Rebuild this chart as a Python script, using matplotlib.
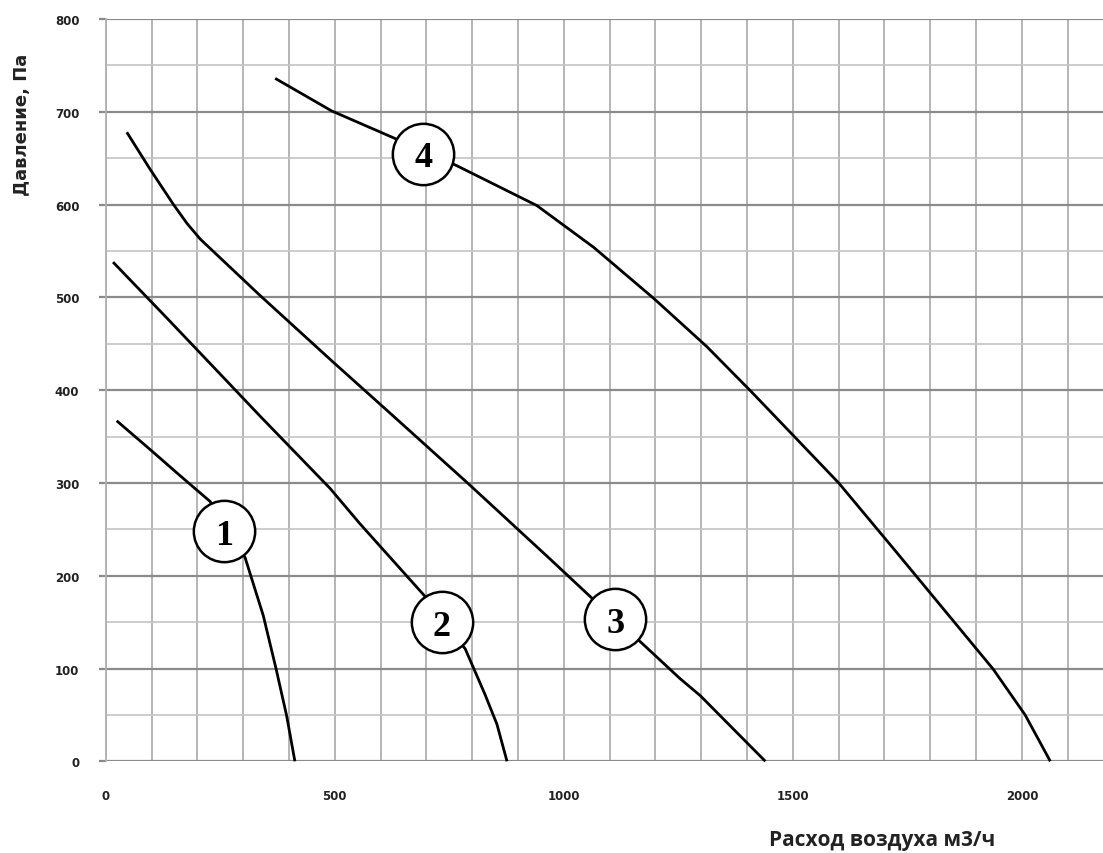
import matplotlib
matplotlib.use("Agg")
import matplotlib.pyplot as plt
from matplotlib.ticker import MultipleLocator

# Curve data (air flow m3/h, pressure Pa)
c1_x = [24, 97, 162, 228, 304, 344, 372, 395, 413]
c1_y = [367, 336, 308, 280, 220, 157, 99.5, 49, 0]

c2_x = [16, 133, 264, 337, 490, 555, 693, 785, 828, 854, 876]
c2_y = [538, 478, 410, 372, 294, 256, 180, 121, 72, 40, 0]

c3_x = [46, 97, 148, 177, 206, 337, 497, 628, 792, 970, 1061, 1170, 1254, 1298, 1440]
c3_y = [678, 638, 600, 580, 563, 502, 430, 372, 299, 218, 176, 127.5, 89, 70.7, 0]

c4_x = [370, 493, 628, 766, 941, 1065, 1196, 1312, 1410, 1509, 1600, 1720, 1767, 1937, 2007, 2062]
c4_y = [736, 701, 672, 642, 599, 554, 499, 447, 398, 347, 300, 229, 201, 99.5, 50, 0]

curves = [(c1_x, c1_y), (c2_x, c2_y), (c3_x, c3_y), (c4_x, c4_y)]

label_text = ["1", "2", "3", "4"]
label_x = [258, 734, 1112, 693]
label_y = [248, 150, 153, 655]

x_ticks = [0, 500, 1000, 1500, 2000]
y_ticks = [0, 100, 200, 300, 400, 500, 600, 700, 800]

fig = plt.figure(figsize=(11.03, 8.54), dpi=100)
ax = fig.add_axes([105.7 / 1103, 91.7 / 854, (1103 - 105.7) / 1103, (762.3 - 20) / 854])
ax.set_xlim(0, 2177)
ax.set_ylim(0, 800)

# grid
ax.yaxis.set_major_locator(MultipleLocator(100))
ax.yaxis.set_minor_locator(MultipleLocator(50))
ax.grid(which="major", axis="y", color="#8a8a8a", linewidth=1.6)
ax.grid(which="minor", axis="y", color="#c4c4c4", linewidth=1.2)
ax.grid(which="major", axis="x", color="#b0b0b0", linewidth=1.3)
ax.set_axisbelow(True)

for s in ["top", "right", "bottom"]:
    ax.spines[s].set_visible(False)
ax.spines["left"].set_color("#b0b0b0")
ax.spines["left"].set_linewidth(1.3)

ax.set_xticks(list(range(0, 2177, 100)))
ax.set_xticklabels([str(v) if v in x_ticks else "" for v in range(0, 2177, 100)])
ax.set_yticks(y_ticks)
ax.set_yticklabels([str(v) for v in y_ticks])
ax.tick_params(axis="x", which="both", length=0, pad=20, labelsize=8.5)
ax.tick_params(axis="y", which="major", length=5, color="#8a8a8a", width=1.6, pad=14, labelsize=8.5)
ax.tick_params(axis="y", which="minor", length=0)
for lab in ax.get_xticklabels() + ax.get_yticklabels():
    lab.set_fontweight("bold")
    lab.set_color("#222222")

for cx, cy in curves:
    ax.plot(cx, cy, color="black", linewidth=2.0, solid_capstyle="butt",
            solid_joinstyle="round", zorder=3, clip_on=False)

ax.scatter(label_x, label_y, s=1950, facecolor="white", edgecolor="black", linewidth=1.8, zorder=4)
for t, lx, ly in zip(label_text, label_x, label_y):
    ax.text(lx, ly, t, ha="center", va="center_baseline", fontsize=26, fontweight="bold",
            family=["Liberation Serif", "DejaVu Serif"], zorder=5)

fig.text(22 / 1103, 1 - 125 / 854, "Давление, Па", rotation=90, ha="center", va="center",
         fontsize=13, fontweight="bold", color="#222222")
fig.text(882 / 1103, 1 - 841 / 854, "Расход воздуха м3/ч", ha="center", va="center",
         fontsize=15, fontweight="bold", color="#222222", family=["Open Sans", "DejaVu Sans"])

fig.savefig("out.png", dpi=100)
